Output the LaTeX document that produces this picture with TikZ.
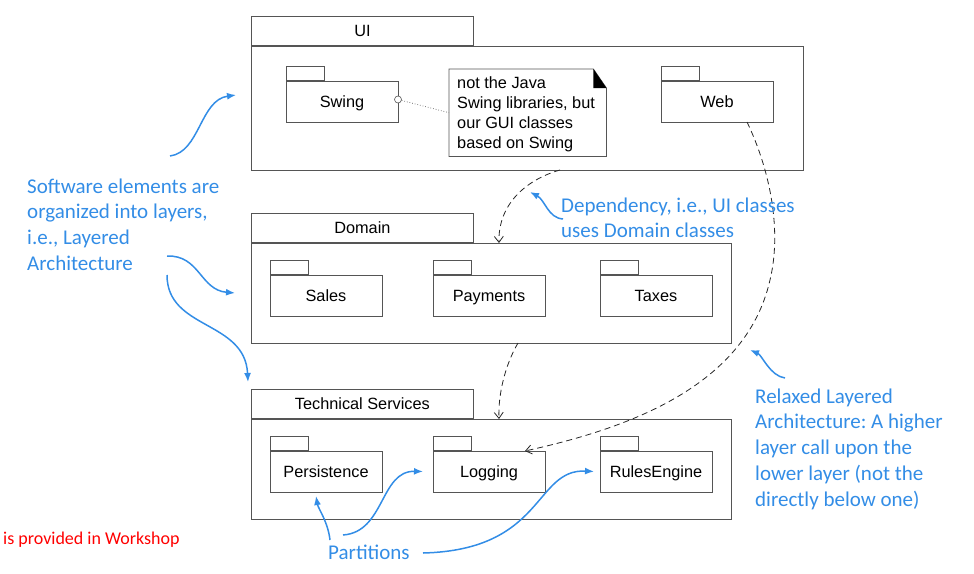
\documentclass[tikz,border=0pt]{standalone}
\usepackage{fontspec}
\setmainfont{Carlito}
\newfontfamily\umlfont{Liberation Sans}
\usetikzlibrary{arrows.meta, positioning, calc}
\definecolor{remarkblue}{RGB}{51,141,230}
\definecolor{pkgline}{RGB}{85,85,85}
\frenchspacing
\tikzset{
    layerbox/.style={draw=pkgline, line width=0.8pt, anchor=north west, inner sep=0pt, outer sep=0pt},
    layertab/.style={draw=pkgline, line width=0.8pt, anchor=south west, minimum width=222pt, minimum height=29pt, inner sep=0pt, text height=11.6pt, text depth=0pt, font=\umlfont\fontsize{16.3}{19}\selectfont},
    pkg/.style={draw=pkgline, line width=0.8pt, minimum width=112pt, minimum height=41pt, inner sep=0pt, outer sep=0pt, text height=11.6pt, text depth=0pt, font=\umlfont\fontsize{16.3}{19}\selectfont},
    pkgtab/.style={draw=pkgline, line width=0.8pt, anchor=south west, minimum width=38pt, minimum height=14pt, inner sep=0pt},
    remark/.style={text=remarkblue, align=left, inner sep=0pt, font=\fontsize{21}{25.7}\selectfont},
    dep/.style={draw=black!85, line width=0.8pt, dash pattern=on 6pt off 4pt, -{Straight Barb[length=6pt,width=9pt]}},
    pointer/.style={draw=remarkblue, line width=1.5pt, -{Latex[length=9pt,width=7pt]}}
}

\begin{document}
\begin{tikzpicture}[x=1pt, y=-1pt]
    \useasboundingbox (0,0) rectangle (974,573);

    % layers
    \node [layerbox, minimum width=552pt, minimum height=124pt] (UI) at (251,46) {};
    \node [layertab] (UItab) at (UI.north west) {UI};
    \node [layerbox, minimum width=480pt, minimum height=100pt] (Domain) at (251,243) {};
    \node [layertab] (Domaintab) at (Domain.north west) {Domain};
    \node [layerbox, minimum width=480pt, minimum height=100pt] (Tech) at (251,419) {};
    \node [layertab] (Techtab) at (Tech.north west) {Technical Services};

    % packages
    \node [pkg, anchor=north west] (Swing) at (286,81) {Swing};
    \node [pkg, anchor=north west] (Web) at (661,81) {Web};
    \node [pkg, anchor=north west] (Sales) at (270,275) {Sales};
    \node [pkg, right=51pt of Sales] (Payments) {Payments};
    \node [pkg, right=55pt of Payments] (Taxes) {Taxes};
    \node [pkg, anchor=north west] (Persistence) at (270,451) {Persistence};
    \node [pkg, right=51pt of Persistence] (Logging) {Logging};
    \node [pkg, right=55pt of Logging] (Rules) {RulesEngine};
    \foreach \p in {Swing, Web, Sales, Payments, Taxes, Persistence, Logging, Rules}
        \node [pkgtab] (\p tab) at (\p.north west) {};

    % note on Swing
    \node [anchor=north west, minimum width=157pt, minimum height=87pt, inner sep=0pt] (Note) at (449,69) {};
    \draw [pkgline, line width=0.8pt, fill=white] (Note.north west) -- ([xshift=-13pt]Note.north east) -- ([yshift=-19pt]Note.north east) -- (Note.south east) -- (Note.south west) -- cycle;
    \fill [black] ([xshift=-13pt]Note.north east) -- ([xshift=-13pt, yshift=-19pt]Note.north east) -- ([yshift=-19pt]Note.north east) -- cycle;
    \node [anchor=north west, align=left, inner sep=0pt, font=\umlfont\fontsize{16.3}{20}\selectfont] (Notetext) at (457,76.3) {not the Java\\Swing libraries, but\\our GUI classes\\based on Swing};
    \node [circle, draw=pkgline, fill=white, line width=0.6pt, minimum size=7pt, inner sep=0pt] (Swinghook) at ([yshift=2pt]Swing.east) {};
    \draw [pkgline, line width=0.7pt, dotted] (Swinghook) -- (Note.west);

    % dependencies
    \draw [dep] ([xshift=33pt]UI.south) .. controls +(-35,10) and +(-1,-38) .. ([xshift=8pt]Domain.north);
    \draw [dep] ([xshift=27pt]Domain.south) .. controls +(-13,22) and +(-1,-24) .. ([xshift=8pt]Tech.north);
    \draw [dep] ([xshift=30pt]Web.south) .. controls +(23,48) and +(12,-50) .. (770,280)
        .. controls +(-25,110) and +(95,-21) .. ([xshift=36pt]Logging.north);

    % remarks
    \node [remark, anchor=north west] (Layered) at (27,178.5) {Software elements are\\organized into layers,\\i.e., Layered\\Architecture};
    \node [remark, anchor=north west] (Depend) at (561,197.5) {Dependency, i.e., UI classes\\uses Domain classes};
    \node [remark, anchor=north west] (Relaxed) at (755,388.5) {Relaxed Layered\\Architecture: A higher\\layer call upon the\\lower layer (not the\\directly below one)};
    \node [remark, anchor=base west] (Partitions) at (328,559) {Partitions};
    \node [anchor=base west, inner sep=0pt, text=red, font=\fontsize{18}{22}\selectfont] (Workshop) at (3,544) {is provided in Workshop};

    \coordinate (l1) at (170,156);  \coordinate (l1end) at (236,95);
    \coordinate (l2) at (167,256);  \coordinate (l2end) at (235,293);
    \coordinate (l3) at (167,275);  \coordinate (l3end) at (248,382);
    \coordinate (d1) at (563,219);  \coordinate (d1end) at (530,192);
    \coordinate (r1) at (785,378);  \coordinate (r1end) at (750,350);
    \coordinate (p1) at (330,540);  \coordinate (p2) at (343,535);  \coordinate (p3) at (423,553);

    \draw [pointer] (l1) .. controls +(30,-4) and +(-36,5) .. (l1end);
    \draw [pointer] (l2) .. controls +(33,-1) and +(-35,-3) .. (l2end);
    \draw [pointer] (l3) .. controls +(0,55) and +(-3,-62) .. (l3end);
    \draw [pointer] (d1) .. controls +(-15,-1) and +(15,8) .. (d1end);
    \draw [pointer] (r1) .. controls +(-15,-2) and +(12,5) .. (r1end);
    \draw [pointer] (p1) .. controls +(-2,-18) and +(2,12) .. ([xshift=-10pt, yshift=-4pt]Persistence.south);
    \draw [pointer] (p2) .. controls +(42,-3) and +(-43,-1) .. ([xshift=-10pt]Logging.west);
    \draw [pointer] (p3) .. controls +(122,-3) and +(-60,-3) .. ([xshift=-6pt]Rules.west);
\end{tikzpicture}
\end{document}
